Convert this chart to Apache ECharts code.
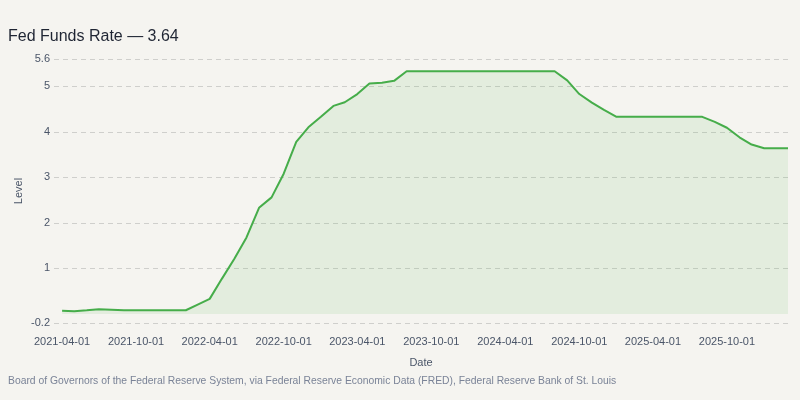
<!DOCTYPE html>
<html>
<head>
<meta charset="utf-8">
<script src="https://cdn.jsdelivr.net/npm/echarts@6/dist/echarts.min.js"></script>
<style>
html,body{margin:0;padding:0;background:#f5f4f0;}
#chart{width:800px;height:400px;}
</style>
</head>
<body>
<div id="chart"></div>
<script>
const dates = [
 '2021-04-01','2021-05-01','2021-06-01','2021-07-01','2021-08-01','2021-09-01','2021-10-01','2021-11-01','2021-12-01',
 '2022-01-01','2022-02-01','2022-03-01','2022-04-01','2022-05-01','2022-06-01','2022-07-01','2022-08-01','2022-09-01','2022-10-01','2022-11-01','2022-12-01',
 '2023-01-01','2023-02-01','2023-03-01','2023-04-01','2023-05-01','2023-06-01','2023-07-01','2023-08-01','2023-09-01','2023-10-01','2023-11-01','2023-12-01',
 '2024-01-01','2024-02-01','2024-03-01','2024-04-01','2024-05-01','2024-06-01','2024-07-01','2024-08-01','2024-09-01','2024-10-01','2024-11-01','2024-12-01',
 '2025-01-01','2025-02-01','2025-03-01','2025-04-01','2025-05-01','2025-06-01','2025-07-01','2025-08-01','2025-09-01','2025-10-01','2025-11-01','2025-12-01',
 '2026-01-01','2026-02-01','2026-03-01'
];
const rates = [
 0.07,0.06,0.08,0.10,0.09,0.08,0.08,0.08,0.08,
 0.08,0.08,0.20,0.33,0.77,1.21,1.68,2.33,2.56,3.08,3.78,4.10,
 4.33,4.57,4.65,4.83,5.06,5.08,5.12,5.33,5.33,5.33,5.33,5.33,
 5.33,5.33,5.33,5.33,5.33,5.33,5.33,5.33,5.13,4.83,4.64,4.48,
 4.33,4.33,4.33,4.33,4.33,4.33,4.33,4.33,4.22,4.09,3.88,3.72,
 3.64,3.64,3.64
];
const xTicks = ['2021-04-01','2021-10-01','2022-04-01','2022-10-01','2023-04-01','2023-10-01','2024-04-01','2024-10-01','2025-04-01','2025-10-01'];
const yTicks = [-0.2, 1, 2, 3, 4, 5, 5.6];
const xMin = '2021-03-12';
const xMax = '2026-03-01';
const titleText = 'Fed Funds Rate — 3.64';
const sourceText = 'Board of Governors of the Federal Reserve System, via Federal Reserve Economic Data (FRED), Federal Reserve Bank of St. Louis';

const seriesData = dates.map((d, i) => [d, rates[i]]);

const chart = echarts.init(document.getElementById('chart'));
const FONT = 'Liberation Sans';
chart.setOption({
  backgroundColor: '#f5f4f0',
  textStyle: {fontFamily: FONT},
  title: {
    text: titleText, left: 3, top: 24,
    textStyle: {fontFamily: FONT, fontSize: 16, fontWeight: 'normal', color: '#1f2533'}
  },
  graphic: [{
    type: 'text', left: 8, top: 376,
    style: {text: sourceText, fontFamily: FONT, fontSize: 10.35, fill: '#7a8397'}
  }],
  grid: {left: 54, right: 12, top: 59, bottom: 77},
  xAxis: {
    type: 'time', min: xMin, max: xMax,
    name: 'Date', nameLocation: 'middle', nameGap: 34,
    nameTextStyle: {fontFamily: FONT, fontSize: 11, color: '#4a5568'},
    axisLine: {show: false},
    axisTick: {show: false, customValues: xTicks},
    axisLabel: {customValues: xTicks, formatter: '{yyyy}-{MM}-{dd}', color: '#4a5568', fontSize: 11, fontFamily: FONT, margin: 13, hideOverlap: false},
    splitLine: {show: false}
  },
  yAxis: {
    type: 'value', min: -0.2, max: 5.6,
    name: 'Level', nameLocation: 'middle', nameGap: 30, nameMoveOverlap: false,
    nameTextStyle: {fontFamily: FONT, fontSize: 11, color: '#4a5568'},
    axisLine: {show: false},
    axisTick: {show: false, customValues: yTicks},
    axisLabel: {customValues: yTicks, color: '#4a5568', fontSize: 11, fontFamily: FONT, margin: 4},
    splitLine: {show: true, lineStyle: {color: '#cfcfcc', type: [5, 4], width: 1}}
  },
  series: [{
    type: 'line', data: seriesData, showSymbol: false, smooth: false,
    lineStyle: {color: '#46ad4a', width: 2},
    itemStyle: {color: '#46ad4a'},
    areaStyle: {color: 'rgba(76,175,80,0.15)'}
  }]
});
</script>
</body>
</html>
